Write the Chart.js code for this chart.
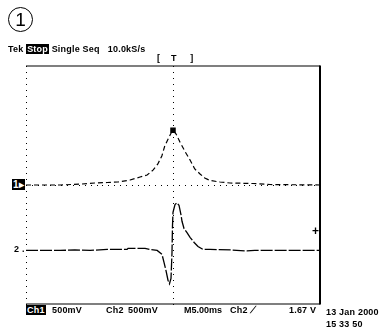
<!DOCTYPE html>
<html lang="en">
<head>
    <meta charset="UTF-8">
    <title>Tek scope capture</title>
    <script src="https://cdn.jsdelivr.net/npm/chart.js"></script>
    <style>
        html, body { margin: 0; padding: 0; background: #fff; }
        #wrap { position: relative; width: 379px; height: 335px; overflow: hidden; }
        #scope { position: absolute; left: 0; top: 0; }
        .t { position: absolute; font-family: "Liberation Sans", Arial, sans-serif; font-size: 9px; font-weight: bold; color: #000; white-space: nowrap; line-height: 10px; letter-spacing: 0.2px; }
        .inv { background: #000; color: #fff; padding: 0 1px; }
        #circ { position: absolute; left: 8px; top: 7px; width: 23px; height: 23px; border: 1.3px solid #000; border-radius: 50%;
                font-family: "Liberation Sans", Arial, sans-serif; font-size: 19px; line-height: 23px; text-align: center; }
    </style>
</head>
<body>
<div id="wrap">
    <canvas id="scope" width="379" height="335"></canvas>
    <div id="circ">1</div>
    <div class="t" style="left:8px;top:44px">Tek <span class="inv">Stop</span> Single Seq&nbsp;&nbsp; 10.0kS/s</div>
    <div class="t" style="left:157px;top:53px">[&nbsp;&nbsp;&nbsp;&nbsp;T&nbsp;&nbsp;&nbsp;&nbsp;&nbsp;]</div>
    <div class="t" style="left:12px;top:180px;font-size:10px"><span class="inv">1▸</span></div>
    <div class="t" style="left:14px;top:244px">2 .</div>
    <div class="t" style="left:312px;top:226px;font-size:12px">+</div>
    <div class="t" style="left:26px;top:305px"><span class="inv">Ch1</span></div>
    <div class="t" style="left:52px;top:305px">500mV</div>
    <div class="t" style="left:106px;top:305px">Ch2</div>
    <div class="t" style="left:128px;top:305px">500mV</div>
    <div class="t" style="left:184px;top:305px;letter-spacing:0">M5.00ms</div>
    <div class="t" style="left:230px;top:305px">Ch2 ⟋</div>
    <div class="t" style="left:289px;top:305px">1.67 V</div>
    <div class="t" style="left:326px;top:307px">13 Jan 2000</div>
    <div class="t" style="left:326px;top:319px">15 33 50</div>
</div>
<script>
    // 5 ms/div, 10 div wide, trigger at centre
    const timeMin = -25, timeMax = 25;
    const voltsPerDiv = 0.5;
    const ch1Pos = 0;      // divisions
    const ch2Pos = -2.2;

    // Ch1: peak (ms, V)
    const ch1Time  = [-25, -19.2, -15.5, -13.3, -11.2, -9.4, -7.3, -5.6, -4.4, -3.4, -2.6, -1.9, -1.4, -0.85, -0.34, 0,
                      0.5, 1.2, 2.0, 2.9, 3.7, 4.6, 5.4, 6.3, 8.0, 9.7, 13.6, 16.5, 25];
    const ch1Volts = [0, 0, 0.017, 0.034, 0.042, 0.05, 0.084, 0.134, 0.168, 0.25, 0.35, 0.487, 0.655, 0.77, 0.87, 0.92,
                      0.86, 0.72, 0.57, 0.42, 0.27, 0.185, 0.118, 0.076, 0.05, 0.034, 0.025, 0.008, 0];

    // Ch2: derivative-like swing (ms, V)
    const ch2Time  = [-25, -19.2, -16.7, -14.1, -11.2, -7.8, -7.65, -4.75, -3.9, -2.7, -1.87, -1.53, -1.19, -0.85, -0.6, -0.34,
                      -0.17, -0.085, 0, 0.34, 0.68, 1.02, 1.36, 1.53, 1.87, 2.38, 2.9, 3.6, 4.25, 5.1, 6.3, 10.0, 12.6, 13.9, 25];
    const ch2Volts = [0, 0, 0.008, 0, 0.017, 0.017, 0.034, 0.034, 0.017, 0, -0.067, -0.2, -0.34, -0.5, -0.56, -0.47,
                      -0.034, 0.42, 0.64, 0.77, 0.8, 0.76, 0.6, 0.49, 0.37, 0.30, 0.22, 0.134, 0.067, 0.017, 0.017, 0.008, -0.008, 0, 0];

    const toPoints = (ts, vs, pos) => ts.map((t, i) => ({ x: t, y: pos + vs[i] / voltsPerDiv }));
    const peakIndex = ch1Volts.indexOf(Math.max(...ch1Volts));

    const graticule = {
        id: 'graticule',
        beforeDatasetsDraw(chart) {
            const { ctx, chartArea: a, scales: { x, y } } = chart;
            const cx = x.getPixelForValue(0), cy = y.getPixelForValue(0);
            ctx.save();
            ctx.fillStyle = '#000';
            // dotted centre lines and left edge, a dot every 0.2 div
            for (let t = timeMin; t <= timeMax; t += 1) {
                ctx.fillRect(Math.round(x.getPixelForValue(t)), Math.round(cy), 1, 1);
            }
            for (let d = -4; d <= 4.001; d += 0.2) {
                const py = Math.round(y.getPixelForValue(d));
                ctx.fillRect(Math.round(cx), py, 1, 1);
                ctx.fillRect(Math.round(a.left), py, 1, 1);
            }
            // frame: thin top/bottom, heavier right edge
            ctx.strokeStyle = '#000';
            ctx.lineWidth = 1.2;
            ctx.beginPath();
            ctx.moveTo(a.left, a.top); ctx.lineTo(a.right, a.top);
            ctx.moveTo(a.left, a.bottom); ctx.lineTo(a.right, a.bottom);
            ctx.stroke();
            ctx.lineWidth = 2;
            ctx.beginPath();
            ctx.moveTo(a.right, a.top - 0.6); ctx.lineTo(a.right, a.bottom + 0.6);
            ctx.stroke();
            ctx.restore();
        }
    };

    new Chart(document.getElementById('scope').getContext('2d'), {
        type: 'line',
        data: {
            datasets: [{
                label: 'Ch1',
                data: toPoints(ch1Time, ch1Volts, ch1Pos),
                borderColor: '#000',
                borderWidth: 1.2,
                borderDash: [5, 3],
                pointRadius: c => c.dataIndex === peakIndex ? 3 : 0,
                pointStyle: 'rect',
                pointBackgroundColor: '#000',
                pointBorderColor: '#000',
                tension: 0
            }, {
                label: 'Ch2',
                data: toPoints(ch2Time, ch2Volts, ch2Pos),
                borderColor: '#000',
                borderWidth: 1.3,
                borderDash: [12, 2],
                pointRadius: 0,
                tension: 0
            }]
        },
        options: {
            responsive: false,
            animation: false,
            layout: { padding: { left: 26, top: 66, right: 59, bottom: 31 } },
            plugins: { legend: { display: false }, tooltip: { enabled: false } },
            scales: {
                x: { type: 'linear', min: timeMin, max: timeMax, display: false },
                y: { min: -4, max: 4, display: false }
            }
        },
        plugins: [graticule]
    });
</script>
</body>
</html>
